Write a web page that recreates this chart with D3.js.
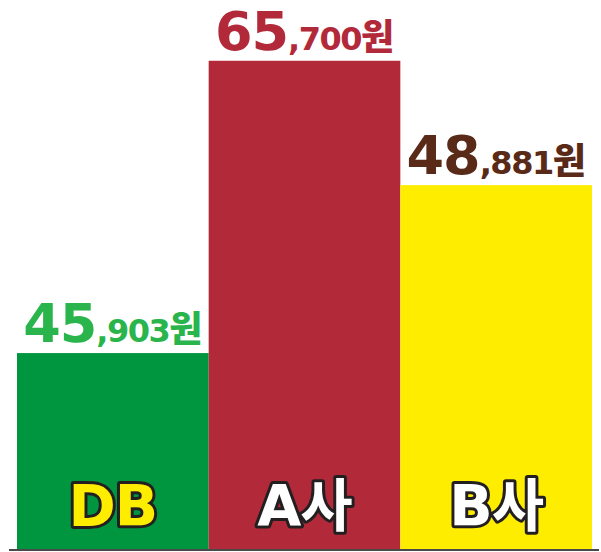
<!DOCTYPE html>
<html><head><meta charset="utf-8">
<script src="https://cdn.jsdelivr.net/npm/d3@7/dist/d3.min.js"></script>
<style>
html,body{margin:0;padding:0;background:#fff;}
svg{display:block;}
text{font-family:"DejaVu Sans","Noto Sans CJK KR",sans-serif;}
</style></head><body>
<script>
const categories = ["DB", "A사", "B사"];
const values = [45903, 65700, 48881];
const unit = "원";

const barColors = ["#009640", "#b22a3a", "#ffed00"];
const valueColors = ["#2ab54c", "#b22a3a", "#5a2a18"];
const catFill = ["#ffed00", "#ffffff", "#ffffff"];

const W = 601, H = 552;
const svg = d3.select("body").append("svg").attr("width", W).attr("height", H);

const x = d3.scaleBand().domain(categories).range([17, 592]).padding(0);
// the source chart is not drawn to a single linear scale; piecewise-linear axis
const y = d3.scaleLinear().domain([0, 45000, 50000, 70000]).range([549, 404, 122, 44]);

const data = categories.map((c, i) => ({c, v: values[i], i}));

svg.selectAll("rect.bar").data(data).join("rect")
  .attr("class", "bar")
  .attr("x", d => x(d.c))
  .attr("width", x.bandwidth())
  .attr("y", d => y(d.v))
  .attr("height", d => y(0) - y(d.v))
  .attr("fill", d => barColors[d.i]);

svg.append("line")
  .attr("x1", 9).attr("x2", 599).attr("y1", 550).attr("y2", 550)
  .attr("stroke", "#4a4a4a").attr("stroke-width", 2);

const fmt = d3.format(",");
const vl = svg.selectAll("text.val").data(data).join("text")
  .attr("class", "val")
  .attr("x", d => x(d.c) + x.bandwidth() / 2)
  .attr("y", d => y(d.v) - 11)
  .attr("text-anchor", "middle")
  .attr("fill", d => valueColors[d.i])
  .attr("font-weight", "bold");
vl.append("tspan").attr("font-size", 54).attr("letter-spacing", -1)
  .text(d => fmt(d.v).split(",")[0]);
vl.append("tspan").attr("font-size", 32).attr("letter-spacing", -1.5)
  .text(d => "," + fmt(d.v).split(",").slice(1).join(","));
vl.append("tspan").attr("font-size", 36).attr("font-weight", 900)
  .attr("font-family", "Noto Sans CJK KR")
  .text(unit);

svg.selectAll("text.cat").data(data).join("text")
  .attr("class", "cat")
  .attr("x", d => x(d.c) + x.bandwidth() / 2)
  .attr("y", 526)
  .attr("text-anchor", "middle")
  .attr("font-size", 57)
  .attr("font-weight", "bold")
  .attr("letter-spacing", -1)
  .attr("fill", d => catFill[d.i])
  .attr("stroke", "#231f20")
  .attr("stroke-width", 6)
  .attr("stroke-linejoin", "round")
  .attr("paint-order", "stroke")
  .text(d => d.c);
</script>
</body></html>
